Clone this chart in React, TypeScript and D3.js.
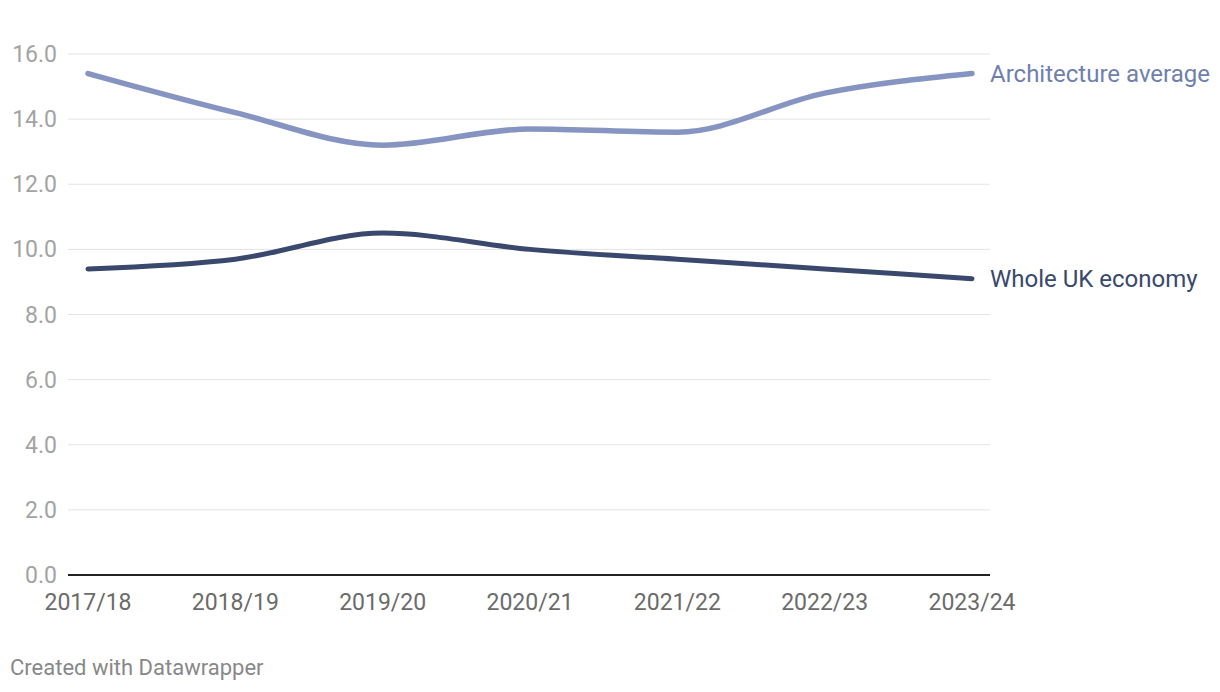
import React from "react";
import * as d3 from "d3";

const years = ["2017/18", "2018/19", "2019/20", "2020/21", "2021/22", "2022/23", "2023/24"];
const architecture = [15.4, 14.2, 13.2, 13.7, 13.6, 14.8, 15.4];
const wholeUK = [9.4, 9.7, 10.5, 10.0, 9.7, 9.4, 9.1];
const yTicks = [0, 2, 4, 6, 8, 10, 12, 14, 16];

const W = 1220;
const H = 692;
const FONT = "Roboto, 'Noto Sans', sans-serif";

export default function App() {
  const x = d3.scalePoint<string>().domain(years).range([88, 972]);
  const y = d3.scaleLinear().domain([0, 16]).range([575, 54]);
  const line = d3
    .line<number>()
    .x((_, i) => x(years[i]) as number)
    .y((d) => y(d))
    .curve(d3.curveMonotoneX);

  const series = [
    { name: "Architecture average", values: architecture, color: "#8694c2", label: "#6f7fb0", width: 5.5 },
    { name: "Whole UK economy", values: wholeUK, color: "#39486c", label: "#39486c", width: 5 },
  ];

  return (
    <svg
      width={W}
      height={H}
      style={{ position: "absolute", left: 0, top: 0, background: "#fff" }}
      fontFamily={FONT}
    >
      {yTicks.map((t) => (
        <g key={t}>
          {t !== 0 && (
            <line x1={68} x2={990} y1={y(t)} y2={y(t)} stroke="#e3e3e3" strokeWidth={1} />
          )}
          <text x={57} y={y(t)} dy="0.35em" textAnchor="end" fontSize={23} fill="#a3a3a3">
            {t.toFixed(1)}
          </text>
        </g>
      ))}
      <line x1={68} x2={990} y1={y(0)} y2={y(0)} stroke="#222" strokeWidth={2} />
      {years.map((yr) => (
        <text key={yr} x={x(yr)} y={610} textAnchor="middle" fontSize={23} fill="#6b6b6b">
          {yr}
        </text>
      ))}
      {series.map((s) => (
        <g key={s.name}>
          <path
            d={line(s.values) || ""}
            fill="none"
            stroke={s.color}
            strokeWidth={s.width}
            strokeLinecap="round"
            strokeLinejoin="round"
          />
          <text
            x={990}
            y={y(s.values[s.values.length - 1])}
            dy="0.35em"
            fontSize={24}
            fill={s.label}
          >
            {s.name}
          </text>
        </g>
      ))}
      <text x={10} y={675} fontSize={22} fill="#888">
        Created with Datawrapper
      </text>
    </svg>
  );
}
